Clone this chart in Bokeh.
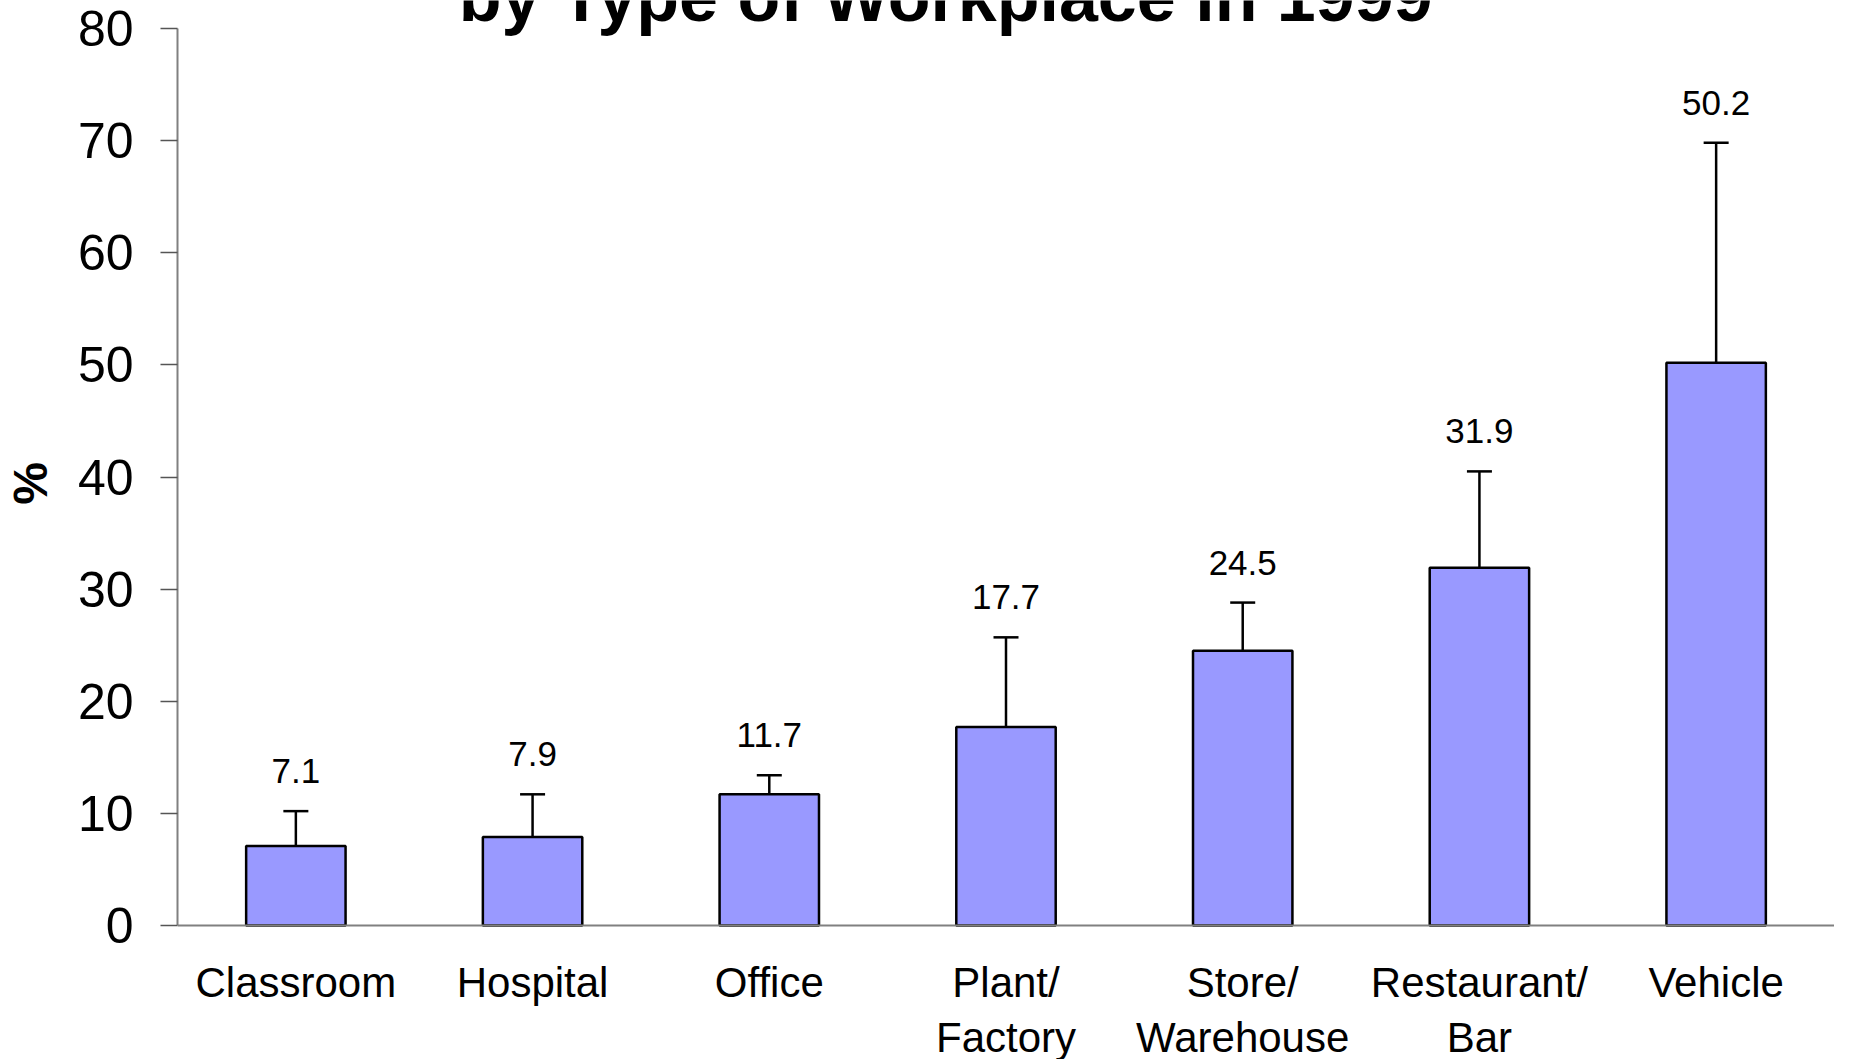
from bokeh.plotting import figure
from bokeh.models import (ColumnDataSource, FactorRange, Range1d, Whisker, TeeHead,
                          LabelSet, Label, FixedTicker, Span)
from bokeh.core.properties import value
from bokeh.embed import file_html
from bokeh.resources import INLINE

# ---- data ----
categories = ["Classroom", "Hospital", "Office", "Plant/Factory",
              "Store/Warehouse", "Restaurant/Bar", "Vehicle"]
label_line1 = ["Classroom", "Hospital", "Office", "Plant/",
               "Store/", "Restaurant/", "Vehicle"]
label_line2 = ["", "", "", "Factory", "Warehouse", "Bar", ""]
values = [7.1, 7.9, 11.7, 17.7, 24.5, 31.9, 50.2]
upper_limits = [10.2, 11.7, 13.4, 25.7, 28.8, 40.5, 69.8]
y_ticks = [0, 10, 20, 30, 40, 50, 60, 70, 80]
title_text = "by Type of Workplace in 1999"
y_label = "%"

FONT = "Liberation Sans"

# ---- layout (pixels) ----
W, H = 1834, 1059
LEFT = 171                 # space for y axis
AXIS_PX = 897              # pixels from 0 to 80
TOP_PX = 28                # pixels above the 80 line
BOTTOM_PX = H - TOP_PX - AXIS_PX   # pixels below the 0 line
PPU = AXIS_PX / 80.0
LINE_GAP = 55              # distance between the two lines of a category name

src = ColumnDataSource(dict(
    cat=categories,
    val=values,
    upper=upper_limits,
    txt=[f"{v:.1f}" for v in values],
    l1=label_line1,
    l2=label_line2,
    zero=[0] * len(categories),
))

p = figure(
    x_range=FactorRange(*categories, range_padding=0),
    y_range=Range1d(-BOTTOM_PX / PPU, 80 + TOP_PX / PPU),
    width=W, height=H,
    output_backend="svg", toolbar_location=None,
    x_axis_location=None,
    min_border_left=LEFT, min_border_right=0,
    min_border_top=0, min_border_bottom=0,
)
p.outline_line_color = None
p.grid.grid_line_color = None
p.background_fill_color = "white"
p.border_fill_color = "white"

# baseline (category axis line)
p.add_layout(Span(location=0, dimension="width", line_color="#808080", line_width=2))

# bars
p.vbar(x="cat", top="val", bottom=0, width=0.42, source=src,
       fill_color="#9999FF", line_color="black", line_width=2.5)

# error bars (upper only)
wh = Whisker(base="cat", upper="upper", lower="val", source=src,
             dimension="height", line_color="black", line_width=2.5,
             upper_head=TeeHead(size=25, line_color="black", line_width=2.5),
             lower_head=None, level="glyph")
p.add_layout(wh)

# value labels
p.add_layout(LabelSet(x="cat", y="upper", text="txt", source=src,
                      y_offset=28, text_align="center", text_baseline="alphabetic",
                      text_font=value(FONT), text_font_size="35px", text_color="black"))

# category names under the baseline (each line centred)
for col, off in (("l1", -33), ("l2", -33 - LINE_GAP)):
    p.add_layout(LabelSet(x="cat", y="zero", text=col, source=src, y_offset=off,
                          text_align="center", text_baseline="top",
                          text_font=value(FONT), text_font_size="42px",
                          text_color="black"))

# y axis
ya = p.yaxis[0]
ya.bounds = (0, 80)
ya.ticker = FixedTicker(ticks=y_ticks)
ya.minor_tick_line_color = None
ya.major_tick_in = 0
ya.major_tick_out = 17
ya.major_tick_line_color = "#555555"
ya.major_tick_line_width = 1.5
ya.axis_line_color = "#808080"
ya.axis_line_width = 2
ya.major_label_text_font = FONT
ya.major_label_text_font_size = "50px"
ya.major_label_text_color = "black"
ya.major_label_standoff = 27
# non-breaking spaces lift the "%" to the middle of the 0-80 axis
ya.axis_label = "\u00a0" * 7 + y_label
ya.axis_label_text_font = FONT
ya.axis_label_text_font_style = "bold"
ya.axis_label_text_font_size = "48px"
ya.axis_label_text_color = "black"
ya.axis_label_standoff = 18

# title (top partially cut off as in the reference)
p.add_layout(Label(x=3.245, y=80, text=title_text, y_offset=32,
                   text_align="center", text_baseline="alphabetic",
                   text_font=FONT, text_font_style="bold",
                   text_font_size="70px", text_color="black"))

open("out.html", "w").write(file_html(p, INLINE))
